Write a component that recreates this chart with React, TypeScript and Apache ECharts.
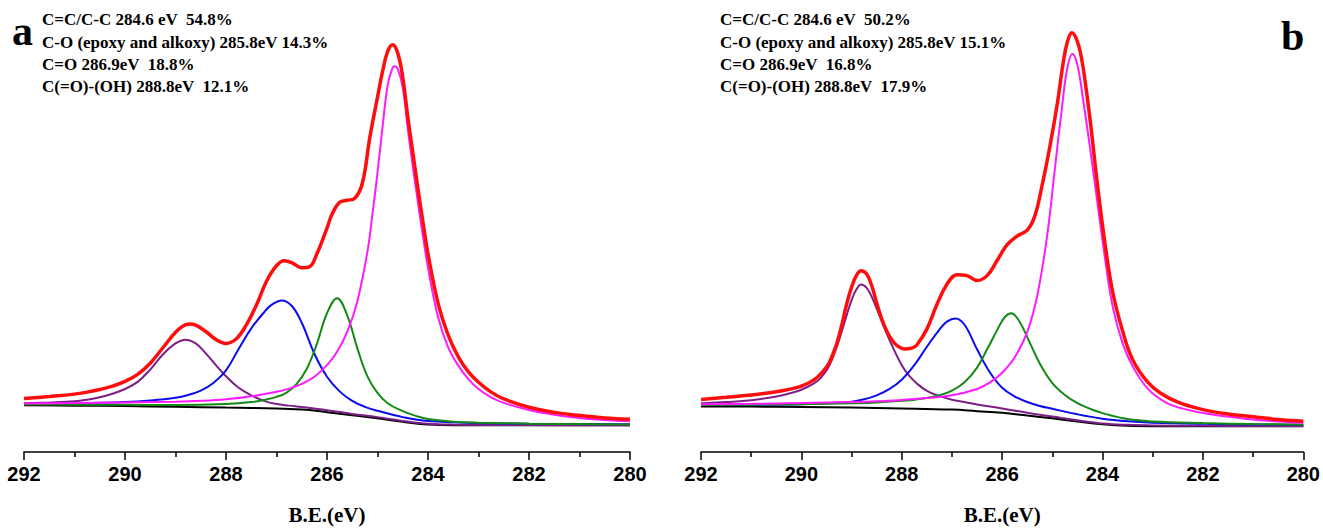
import React, { useEffect, useRef } from "react";
import * as echarts from "echarts";

// ---------- Panel a (B.E. in eV, intensity in arbitrary units) ----------
const aBackground: number[][] = [
  [292, 11.8], [291, 11.7], [290, 11.6], [289, 11.4], [288, 11.2], [287, 11.0], [286.5, 10.75],
  [286.25, 10.45], [286, 10.05], [285.5, 9.25], [285, 8.5], [284.5, 7.6], [284, 6.95], [283.5, 6.75],
  [282, 6.75], [280, 6.75],
];
const aPurple: number[][] = [
  [292, 12.3], [291.5, 12.5], [291, 12.8], [290.75, 13.2], [290.5, 13.8], [290.25, 14.7], [290, 15.9],
  [289.75, 17.7], [289.5, 20.8], [289.25, 24.6], [289, 27.4], [288.8, 28.35], [288.6, 27.4], [288.4, 24.9],
  [288.2, 21.9], [288, 19.1], [287.75, 16.2], [287.5, 14.3], [287.25, 12.9], [287, 12.1], [286.75, 11.7],
  [286.5, 11.35], [286, 10.55], [285.5, 9.6], [285, 8.8], [284.5, 7.85], [284, 7.1], [283.5, 6.9],
  [282, 6.8], [280, 6.75],
];
const aBlue: number[][] = [
  [292, 12.1], [291, 12.25], [290, 12.6], [289.5, 13.0], [289, 13.7], [288.75, 14.4], [288.5, 15.5],
  [288.25, 17.4], [288, 20.6], [287.75, 26.0], [287.5, 31.2], [287.25, 35.2], [287.1, 37.1], [286.9, 38.25],
  [286.7, 36.9], [286.5, 32.6], [286.25, 24.8], [286, 19.0], [285.75, 15.3], [285.5, 12.9], [285.25, 11.4],
  [285, 10.4], [284.5, 8.8], [284, 7.8], [283, 7.3], [282, 7.15], [280, 7.0],
];
const aGreen: number[][] = [
  [292, 12.0], [291, 11.95], [290, 11.9], [289, 11.85], [288, 12.1], [287.5, 12.6], [287.2, 13.25],
  [287, 13.9], [286.8, 15.0], [286.6, 17.2], [286.4, 21.0], [286.2, 27.3], [286, 35.0], [285.8, 38.8],
  [285.6, 34.5], [285.4, 26.2], [285.2, 19.1], [285, 14.9], [284.8, 12.3], [284.5, 10.3], [284.2, 8.95],
  [284, 8.35], [283.5, 7.65], [283, 7.4], [282, 7.15], [281, 7.05], [280, 6.95],
];
const aMagenta: number[][] = [
  [292, 12.25], [291, 12.35], [290, 12.5], [289, 12.7], [288.5, 12.9], [288, 13.3], [287.5, 14.05],
  [287, 15.2], [286.75, 16.0], [286.5, 17.2], [286.25, 19.0], [286, 21.9], [285.8, 25.3], [285.6, 30.3],
  [285.4, 38.0], [285.2, 50.5], [285.1, 60.0], [285, 70.5], [284.9, 82.0], [284.8, 92.5], [284.72, 96.3],
  [284.67, 97.3], [284.6, 96.6], [284.5, 92.0], [284.4, 81.5], [284.3, 72.0], [284.2, 63.0], [284.1, 54.5],
  [284, 46.5], [283.8, 34.0], [283.6, 26.4], [283.4, 21.8], [283.2, 18.4], [283, 15.9], [282.75, 13.8],
  [282.5, 12.4], [282, 10.6], [281.5, 9.4], [281, 8.6], [280.5, 8.1], [280, 7.75],
];
const aRed: number[][] = [
  [292, 13.5], [291.5, 14.0], [291, 14.6], [290.75, 15.1], [290.5, 15.75], [290.25, 16.6], [290, 17.8],
  [289.75, 19.6], [289.5, 22.4], [289.25, 26.3], [289, 30.2], [288.85, 31.8], [288.72, 32.3], [288.6, 32.0],
  [288.4, 30.4], [288.2, 28.4], [288, 27.4], [287.8, 28.5], [287.6, 32.0], [287.4, 37.0], [287.2, 43.0],
  [287, 47.0], [286.85, 48.25], [286.7, 47.8], [286.5, 46.5], [286.35, 46.7], [286.2, 50.0], [286, 56.5],
  [285.9, 60.0], [285.75, 63.0], [285.6, 63.5], [285.45, 64.0], [285.3, 67.8], [285.15, 79.5], [285, 89.5],
  [284.9, 96.0], [284.8, 101.0], [284.7, 102.75], [284.6, 100.7], [284.5, 94.5], [284.4, 84.5],
  [284.3, 75.5], [284.2, 66.5], [284.1, 58.0], [284, 50.0], [283.8, 37.5], [283.6, 29.5], [283.4, 24.0],
  [283.2, 20.2], [283, 17.6], [282.75, 15.1], [282.5, 13.4], [282, 11.3], [281.5, 10.0], [281, 9.2],
  [280.5, 8.6], [280, 8.25],
];

// ---------- Panel b ----------
const bBackground: number[][] = [
  [292, 11.5], [291, 11.45], [290, 11.35], [289, 11.2], [288, 11.0], [287, 10.7], [286.5, 10.3],
  [286, 9.9], [285.5, 9.2], [285, 8.5], [284.5, 7.7], [284, 7.0], [283.5, 6.6], [283, 6.5], [280, 6.5],
];
const bPurple: number[][] = [
  [292, 12.3], [291.5, 12.6], [291, 13.05], [290.5, 14.0], [290.25, 14.75], [290, 15.7], [289.75, 17.3],
  [289.6, 18.9], [289.45, 21.6], [289.3, 26.3], [289.2, 30.2], [289.1, 34.4], [289, 38.3], [288.9, 41.1],
  [288.81, 42.25], [288.7, 41.4], [288.6, 39.2], [288.45, 34.6], [288.25, 28.4], [288, 21.9],
  [287.85, 19.2], [287.7, 17.3], [287.5, 15.4], [287.25, 14.1], [287, 13.2], [286.75, 12.6], [286.5, 12.0],
  [286, 11.0], [285.5, 9.9], [285, 8.95], [284.5, 8.0], [284, 7.2], [283.5, 6.85], [283, 6.7], [282, 6.6],
  [280, 6.55],
];
const bBlue: number[][] = [
  [292, 11.85], [291, 11.9], [290, 12.05], [289.5, 12.3], [289, 12.7], [288.75, 13.3], [288.5, 14.3],
  [288.25, 15.85], [288, 18.25], [287.75, 21.9], [287.5, 26.55], [287.25, 30.9], [287.1, 32.9],
  [286.93, 33.7], [286.75, 32.1], [286.5, 25.9], [286.25, 20.2], [286, 16.2], [285.75, 14.0],
  [285.5, 12.6], [285.25, 11.6], [285, 10.9], [284.5, 9.5], [284, 8.4], [283.5, 7.75], [283, 7.4],
  [282, 7.1], [281, 6.95], [280, 6.85],
];
const bGreen: number[][] = [
  [292, 11.85], [291, 11.95], [290, 12.05], [289, 12.3], [288.5, 12.5], [288, 12.9], [287.6, 13.45],
  [287.25, 14.3], [287, 15.5], [286.75, 17.6], [286.5, 21.3], [286.3, 25.9], [286.1, 30.75],
  [285.95, 34.0], [285.82, 35.0], [285.65, 32.8], [285.45, 27.6], [285.25, 22.3], [285, 17.4],
  [284.75, 14.4], [284.5, 12.3], [284.25, 10.9], [284, 9.8], [283.5, 8.3], [283, 7.7], [282, 7.3],
  [281, 7.05], [280, 6.9],
];
const bMagenta: number[][] = [
  [292, 12.05], [291, 12.15], [290, 12.35], [289, 12.6], [288.5, 12.8], [288, 13.15], [287.5, 13.6],
  [287, 14.3], [286.5, 15.9], [286.25, 17.5], [286, 20.0], [285.75, 23.9], [285.5, 30.3], [285.3, 39.5],
  [285.1, 54.9], [284.95, 71.4], [284.8, 87.8], [284.7, 97.0], [284.6, 100.5], [284.5, 97.6],
  [284.4, 90.0], [284.25, 76.8], [284.1, 62.7], [283.95, 48.8], [283.8, 36.8], [283.6, 27.4],
  [283.4, 21.6], [283.1, 16.0], [282.75, 12.6], [282.4, 10.95], [281.85, 9.5], [281.1, 8.35],
  [280.5, 7.7], [280, 7.4],
];
const bRed: number[][] = [
  [292, 13.25], [291.5, 13.8], [291, 14.4], [290.5, 15.2], [290.25, 15.8], [290, 16.6], [289.75, 18.2],
  [289.6, 19.9], [289.45, 22.4], [289.3, 27.2], [289.2, 31.8], [289.1, 37.2], [289, 41.6], [288.9, 44.6],
  [288.81, 45.75], [288.7, 44.9], [288.6, 42.0], [288.5, 37.6], [288.4, 33.6], [288.3, 30.5], [288.2, 28.3],
  [288.1, 26.9], [287.95, 26.0], [287.8, 26.2], [287.7, 27.0], [287.5, 31.0], [287.3, 37.2], [287.1, 42.3],
  [286.9, 44.75], [286.7, 44.5], [286.5, 43.25], [286.3, 44.5], [286.1, 48.3], [285.9, 52.3],
  [285.7, 54.5], [285.5, 56.0], [285.35, 59.5], [285.2, 67.5], [285.05, 77.0], [284.9, 88.0],
  [284.78, 98.5], [284.7, 103.5], [284.61, 105.75], [284.5, 103.5], [284.4, 98.0], [284.25, 84.0],
  [284.1, 67.25], [283.95, 52.5], [283.8, 40.5], [283.6, 30.5], [283.4, 23.3], [283.1, 17.6],
  [282.85, 14.9], [282.5, 12.6], [282, 10.7], [281.5, 9.6], [281, 8.9], [280.5, 8.2], [280, 7.75],
];

// ---------- Annotations ----------
const aLines: string[] = [
  "C=C/C-C 284.6 eV  54.8%",
  "C-O (epoxy and alkoxy) 285.8eV 14.3%",
  "C=O 286.9eV  18.8%",
  "C(=O)-(OH) 288.8eV  12.1%",
];
const bLines: string[] = [
  "C=C/C-C 284.6 eV  50.2%",
  "C-O (epoxy and alkoxy) 285.8eV 15.1%",
  "C=O 286.9eV  16.8%",
  "C(=O)-(OH) 288.8eV  17.9%",
];
const panelLetters: string[] = ["a", "b"];
const X_MIN = 280;
const X_MAX = 292;
const AXIS_NAME = "B.E.(eV)";

const COLORS = {
  bg: "#000000",
  purple: "#7d1f86",
  blue: "#0b0bf0",
  green: "#138a13",
  magenta: "#ff1aff",
  red: "#ff0d0d",
};

export default function App() {
  const ref = useRef<HTMLDivElement>(null);
  useEffect(() => {
    if (!ref.current) return;
    const chart = echarts.init(ref.current, undefined, { renderer: "svg" });

    const grids = [
      { left: 24, right: 1323 - 630, top: 16, bottom: 74 },
      { left: 701, right: 1323 - 1306, top: 16, bottom: 74 },
    ];

    const xAxis = [0, 1].map((i) => ({
      type: "value",
      gridIndex: i,
      min: X_MIN,
      max: X_MAX,
      interval: 2,
      inverse: true,
      name: AXIS_NAME,
      nameLocation: "middle",
      nameGap: 52,
      nameTextStyle: {
        fontFamily: "Liberation Serif",
        fontWeight: "bold",
        fontSize: 21,
        color: "#000",
      },
      axisLine: { show: true, onZero: false, lineStyle: { color: "#000", width: 1.5 } },
      axisTick: { show: true, inside: false, length: 8, lineStyle: { color: "#000", width: 1.5 } },
      minorTick: { show: true, splitNumber: 2, length: 5, lineStyle: { color: "#000", width: 1.5 } },
      splitLine: { show: false },
      axisLabel: {
        show: true,
        margin: 12,
        fontFamily: "Liberation Sans",
        fontWeight: "bold",
        fontSize: 20,
        color: "#000",
        showMinLabel: true,
        showMaxLabel: true,
      },
    }));

    const yAxis = [0, 1].map((i) => ({
      type: "value",
      gridIndex: i,
      min: 0,
      max: 110,
      show: false,
    }));

    const mk = (name: string, data: number[][], color: string, width: number, idx: number, z: number) => ({
      name,
      type: "line",
      xAxisIndex: idx,
      yAxisIndex: idx,
      data,
      showSymbol: false,
      symbol: "none",
      smooth: 0.4,
      z,
      lineStyle: { color, width },
      itemStyle: { color },
      silent: true,
    });

    const series = [
      mk("a background", aBackground, COLORS.bg, 2, 0, 2),
      mk("a 288.8", aPurple, COLORS.purple, 2, 0, 3),
      mk("a 286.9", aBlue, COLORS.blue, 2, 0, 3),
      mk("a 285.8", aGreen, COLORS.green, 2, 0, 3),
      mk("a 284.6", aMagenta, COLORS.magenta, 2, 0, 3),
      mk("a envelope", aRed, COLORS.red, 3.5, 0, 4),
      mk("b background", bBackground, COLORS.bg, 2, 1, 2),
      mk("b 288.8", bPurple, COLORS.purple, 2, 1, 3),
      mk("b 286.9", bBlue, COLORS.blue, 2, 1, 3),
      mk("b 285.8", bGreen, COLORS.green, 2, 1, 3),
      mk("b 284.6", bMagenta, COLORS.magenta, 2, 1, 3),
      mk("b envelope", bRed, COLORS.red, 3.5, 1, 4),
    ];

    const lineYs = [21, 44, 66, 88];
    const textEls: any[] = [];
    aLines.forEach((t, i) =>
      textEls.push({
        type: "text",
        left: 42,
        top: lineYs[i] - 10,
        style: { text: t, fill: "#000", font: "bold 17px 'Liberation Serif'" },
      })
    );
    bLines.forEach((t, i) =>
      textEls.push({
        type: "text",
        left: 720,
        top: lineYs[i] - 10,
        style: { text: t, fill: "#000", font: "bold 17px 'Liberation Serif'" },
      })
    );
    textEls.push({
      type: "text",
      left: 12,
      top: 10,
      style: { text: panelLetters[0], fill: "#000", font: "bold 42px 'Liberation Serif'" },
    });
    textEls.push({
      type: "text",
      left: 1281,
      top: 15,
      style: { text: panelLetters[1], fill: "#000", font: "bold 42px 'Liberation Serif'" },
    });

    chart.setOption({
      animation: false,
      backgroundColor: "#ffffff",
      grid: grids,
      xAxis,
      yAxis,
      series,
      graphic: textEls,
    });

    return () => {
      chart.dispose();
    };
  }, []);

  return (
    <div
      ref={ref}
      style={{ position: "fixed", left: 0, top: 0, width: 1323, height: 530, background: "#fff" }}
    />
  );
}
